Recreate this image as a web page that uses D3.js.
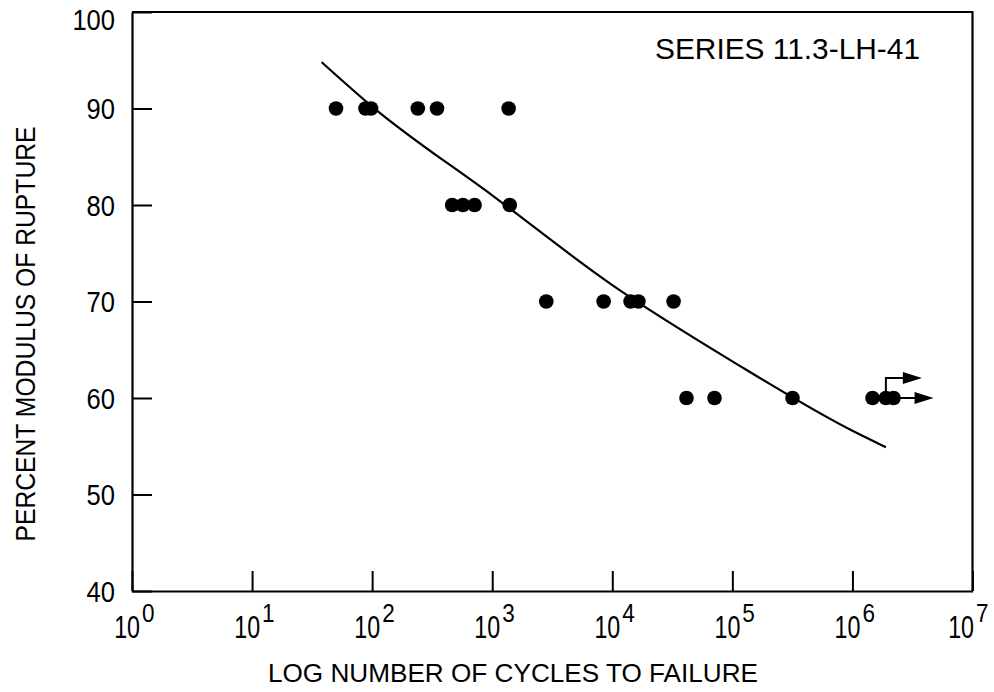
<!DOCTYPE html>
<html>
<head>
<meta charset="utf-8">
<script src="https://cdn.jsdelivr.net/npm/d3@7"></script>
<style>
  html, body { margin: 0; padding: 0; background: #fff; }
  svg { display: block; font-family: "Liberation Sans", Arial, sans-serif; }
</style>
</head>
<body>
<svg id="chart" width="994" height="692"></svg>
<script>
// Fatigue test results, series 11.3-LH-41: cycles to failure at each stress level
const cycles90 = [50, 88, 98, 240, 347, 1370];
const cycles80 = [464, 570, 713, 1400];
const cycles70 = [2820, 8470, 14200, 16500, 32400];
const cycles60 = [41500, 71000, 317000, 1470000, 1900000, 2200000];
const stressLevels = [90, 80, 70, 60];

// Specimens that had not failed when the test was stopped (runouts)
const runoutCycles = [1900000, 2200000];
const runoutStress = [60, 60];
const runoutStyle = ["raised", "inline"];

// Fitted S-N curve
const fitCycles = [38, 100, 1000, 10000, 100000, 1000000, 1900000];
const fitStress = [94.8, 90.2, 81.0, 71.7, 63.8, 56.6, 54.9];

// Axis ticks
const xTickExponents = [0, 1, 2, 3, 4, 5, 6, 7];
const yTicks = [40, 50, 60, 70, 80, 90, 100];

const seriesLabel = "SERIES 11.3-LH-41";
const xTitle = "LOG NUMBER OF CYCLES TO FAILURE";
const yTitle = "PERCENT MODULUS OF RUPTURE";

const svg = d3.select("#chart");
const ink = "#000";
const W = 994;

const x = d3.scaleLog().domain([1, 1e7]).range([132, 972.5]);
const y = d3.scaleLinear().domain([40, 100]).range([591, 12]);

// Narrow the default sans face to a condensed look
function squeeze(sel, f) {
  sel.each(function () {
    const w = this.getComputedTextLength();
    d3.select(this).attr("textLength", w * f).attr("lengthAdjust", "spacingAndGlyphs");
  });
}

// Axes with inward ticks
const xAxis = d3.axisBottom(x)
  .tickValues(xTickExponents.map(e => Math.pow(10, e)))
  .tickSizeInner(-20).tickSizeOuter(0).tickFormat("");
const yAxis = d3.axisLeft(y)
  .tickValues(yTicks)
  .tickSizeInner(-20).tickSizeOuter(0).tickFormat("");

const gx = svg.append("g").attr("transform", `translate(0,${y(40)})`).call(xAxis);
const gy = svg.append("g").attr("transform", `translate(${x(1)},0)`).call(yAxis);
[gx, gy].forEach(g => {
  g.selectAll("path.domain").attr("stroke", ink).attr("stroke-width", 2.2);
  g.selectAll(".tick line").attr("stroke", ink).attr("stroke-width", 2);
});

// Top and right frame lines
svg.append("path")
  .attr("d", `M${x(1)},${y(100)}H${x(1e7)}V${y(40)}`)
  .attr("fill", "none").attr("stroke", ink).attr("stroke-width", 2.2);

// Y tick labels
const yl = svg.append("g").selectAll("text").data(yTicks).join("text")
  .attr("x", 115)
  .attr("y", d => Math.max(y(d) + 10.5, 29.5))
  .attr("text-anchor", "end")
  .attr("font-size", 29)
  .attr("fill", ink)
  .text(d => d);
squeeze(yl, 0.88);

// X tick labels: condensed "10" with a raised exponent beside it
const expRight = 23;   // space the exponent takes to the right of the tick
const xl = svg.append("g").selectAll("g").data(xTickExponents).join("g")
  .attr("transform", d => {
    const tx = x(Math.pow(10, d));
    const shift = Math.min(0, (W - 5) - (tx + expRight));
    return `translate(${tx + shift},0)`;
  });
xl.append("text")
  .attr("transform", "translate(8,638) scale(0.75,1)")
  .attr("text-anchor", "end")
  .attr("font-size", 31)
  .attr("fill", ink)
  .text("10");
xl.append("text")
  .attr("transform", "translate(10,622) scale(0.9,1)")
  .attr("text-anchor", "start")
  .attr("font-size", 25)
  .attr("fill", ink)
  .text(d => d);

// Axis titles
svg.append("text")
  .attr("x", 513).attr("y", 682)
  .attr("text-anchor", "middle")
  .attr("font-size", 26.5)
  .attr("fill", ink)
  .attr("textLength", 490).attr("lengthAdjust", "spacingAndGlyphs")
  .text(xTitle);

svg.append("text")
  .attr("transform", "translate(35,334) rotate(-90)")
  .attr("text-anchor", "middle")
  .attr("font-size", 28)
  .attr("fill", ink)
  .attr("textLength", 415).attr("lengthAdjust", "spacingAndGlyphs")
  .text(yTitle);

// Series label
svg.append("text")
  .attr("x", 655).attr("y", 59)
  .attr("font-size", 30)
  .attr("fill", ink)
  .attr("textLength", 265).attr("lengthAdjust", "spacingAndGlyphs")
  .text(seriesLabel);

// Fitted curve
const fit = fitCycles.map((c, i) => [c, fitStress[i]]);
svg.append("path")
  .datum(fit)
  .attr("fill", "none")
  .attr("stroke", ink)
  .attr("stroke-width", 2.2)
  .attr("d", d3.line().x(d => x(d[0])).y(d => y(d[1])).curve(d3.curveMonotoneX));

// Test points
const groups = [cycles90, cycles80, cycles70, cycles60];
const points = [];
groups.forEach((arr, i) => arr.forEach(c => points.push({ c, s: stressLevels[i] })));
svg.append("g").selectAll("circle").data(points).join("circle")
  .attr("cx", d => x(d.c))
  .attr("cy", d => y(d.s))
  .attr("r", 7.3)
  .attr("fill", ink);

// Runout arrows
const head = (tx, ty) => `M${tx},${ty}L${tx - 19},${ty - 6}L${tx - 19},${ty + 6}Z`;
const runouts = runoutCycles.map((c, i) => ({ c, s: runoutStress[i], kind: runoutStyle[i] }));
const ra = svg.append("g");
runouts.forEach(r => {
  const px = x(r.c), py = y(r.s);
  if (r.kind === "raised") {
    const top = py - 20, tip = px + 36;
    ra.append("path").attr("d", `M${px},${py}V${top}H${tip - 15}`)
      .attr("fill", "none").attr("stroke", ink).attr("stroke-width", 2);
    ra.append("path").attr("d", head(tip, top)).attr("fill", ink);
  } else {
    const tip = px + 40;
    ra.append("path").attr("d", `M${px},${py}H${tip - 15}`)
      .attr("fill", "none").attr("stroke", ink).attr("stroke-width", 2);
    ra.append("path").attr("d", head(tip, py)).attr("fill", ink);
  }
});
</script>
</body>
</html>
